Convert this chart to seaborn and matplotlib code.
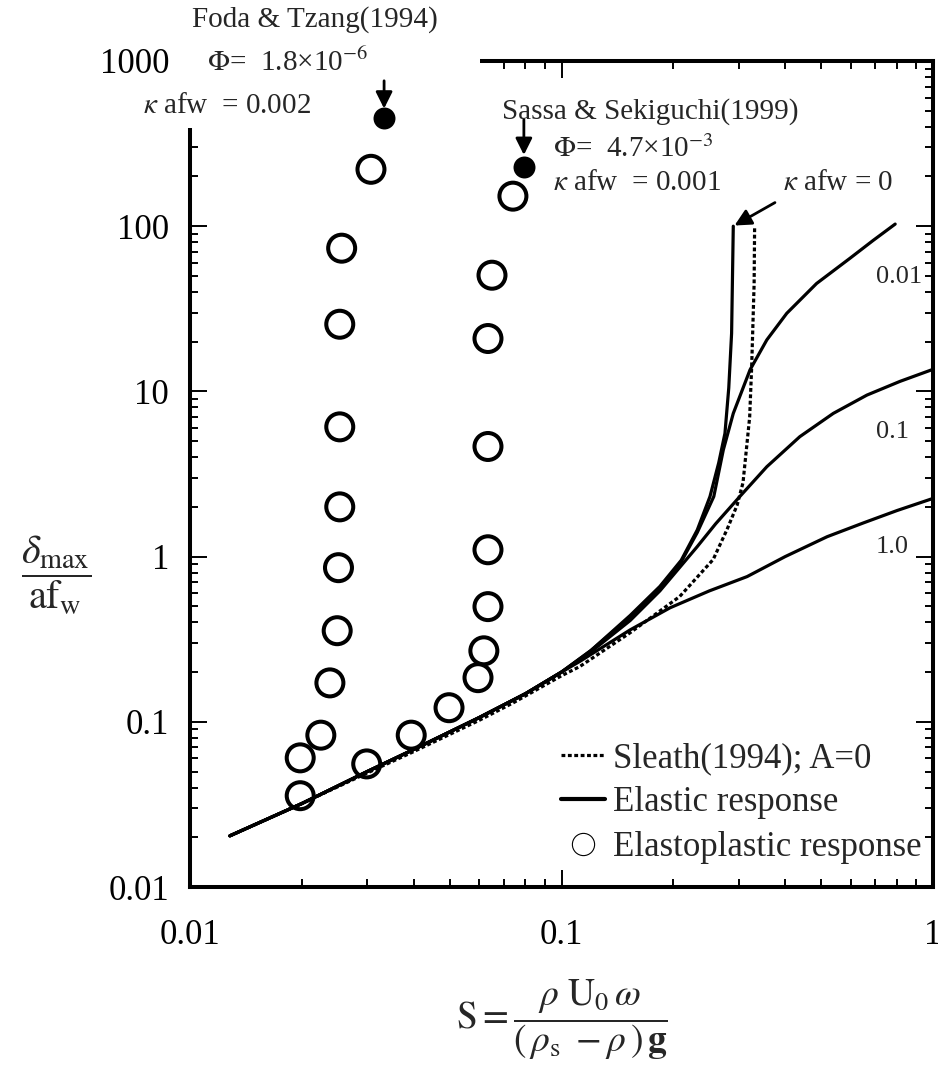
import matplotlib
matplotlib.use("Agg")
import matplotlib.pyplot as plt
from matplotlib.lines import Line2D
from matplotlib.patches import Rectangle
import seaborn as sns

# elastic response curves, S against delta_max / (a f_w), one per kappa*a*f_w
k0_S = [0.0128, 0.02, 0.03, 0.04, 0.06, 0.08, 0.1, 0.12, 0.153, 0.184, 0.21, 0.232, 0.251, 0.265, 0.2754, 0.282, 0.287, 0.29]
k0_d = [0.0204, 0.032, 0.050, 0.068, 0.106, 0.148, 0.2, 0.27, 0.44, 0.66, 0.95, 1.45, 2.31, 3.7, 5.57, 10.5, 22.5, 100]

k001_S = [0.0128, 0.02, 0.03, 0.04, 0.06, 0.08, 0.1, 0.12, 0.153, 0.184, 0.21, 0.232, 0.257, 0.2726, 0.29, 0.3217,
          0.357, 0.404, 0.486, 0.598, 0.69, 0.791]
k001_d = [0.0204, 0.032, 0.050, 0.068, 0.106, 0.148, 0.2, 0.27, 0.43, 0.65, 0.93, 1.4, 2.31, 4.42, 7.36, 13.5,
          20.5, 29.7, 45, 64, 82, 103]

k01_S = [0.0128, 0.02, 0.03, 0.04, 0.06, 0.08, 0.1, 0.12, 0.153, 0.184, 0.232, 0.26, 0.302, 0.357, 0.438, 0.539,
         0.664, 0.815, 1.0]
k01_d = [0.0204, 0.032, 0.050, 0.068, 0.106, 0.148, 0.2, 0.265, 0.41, 0.62, 1.15, 1.58, 2.31, 3.5, 5.32, 7.36,
         9.5, 11.5, 13.6]

k1_S = [0.0128, 0.02, 0.03, 0.04, 0.06, 0.08, 0.1, 0.112, 0.153, 0.196, 0.25, 0.316, 0.4, 0.519, 0.65, 0.8, 1.0]
k1_d = [0.0204, 0.032, 0.050, 0.068, 0.106, 0.148, 0.2, 0.232, 0.36, 0.49, 0.62, 0.757, 1.0, 1.32, 1.6, 1.9, 2.25]

# Sleath (1994), A = 0
sleath_S = [0.0128, 0.02, 0.03, 0.04, 0.06, 0.074, 0.1, 0.112, 0.153, 0.208, 0.256, 0.279, 0.297, 0.308, 0.315,
            0.321, 0.325, 0.33, 0.331]
sleath_d = [0.0204, 0.032, 0.049, 0.066, 0.102, 0.13, 0.19, 0.216, 0.346, 0.573, 0.96, 1.46, 2.05, 2.8, 4.6,
            7.0, 14.1, 45, 100]

# elastoplastic response (open circles)
ep_S = [0.0307, 0.0256, 0.0253, 0.0253, 0.0253, 0.0251, 0.0249, 0.0238, 0.0225, 0.0198, 0.0198,
        0.0299, 0.0394, 0.0498, 0.0596, 0.0618, 0.0634, 0.0634, 0.0634, 0.0634, 0.065, 0.074]
ep_d = [221, 73.6, 25.5, 6.1, 2.0, 0.857, 0.356, 0.172, 0.083, 0.0605, 0.0357,
        0.0556, 0.083, 0.1217, 0.185, 0.269, 0.498, 1.10, 4.64, 20.9, 50.5, 152]

# experiments: Foda & Tzang (1994), Sassa & Sekiguchi (1999)
exp_S = [0.0333, 0.0792]
exp_d = [450, 229]

xticks = [0.01, 0.1, 1]
xtick_labels = ["0.01", "0.1", "1"]
yticks = [0.01, 0.1, 1, 10, 100, 1000]
ytick_labels = ["0.01", "0.1", "1", "10", "100", "1000"]

sns.set_style("ticks")
plt.rcParams["font.family"] = ["Liberation Serif", "DejaVu Serif"]
plt.rcParams["mathtext.fontset"] = "stix"

W, H = 938, 1074
fig = plt.figure(figsize=(W / 100, H / 100), dpi=100)
ax = fig.add_axes([190 / W, (H - 887) / H, 743 / W, 826 / H])
ax.set_xscale("log")
ax.set_yscale("log")

for S, d in [(k0_S, k0_d), (k001_S, k001_d), (k01_S, k01_d), (k1_S, k1_d)]:
    sns.lineplot(x=S, y=d, ax=ax, color="black", lw=2.3, sort=False, estimator=None)
sns.lineplot(x=sleath_S, y=sleath_d, ax=ax, color="black", lw=2.3, linestyle=(0, (1.2, 0.8)),
             sort=False, estimator=None)

sns.scatterplot(x=ep_S, y=ep_d, ax=ax, marker="o", s=377, facecolor="none",
                edgecolor="black", linewidth=2.9, zorder=4)
sns.scatterplot(x=exp_S, y=exp_d, ax=ax, marker="o", s=250, color="black",
                edgecolor="black", linewidth=0, zorder=4)

ax.set_xlim(0.01, 1)
ax.set_ylim(0.01, 1000)
ax.set_xticks(xticks)
ax.set_xticklabels(xtick_labels)
ax.set_yticks(yticks)
ax.set_yticklabels(ytick_labels)
ax.tick_params(which="both", direction="in", top=True, right=True, width=1.4, colors="black")
ax.tick_params(which="major", length=12, labelsize=25)
ax.tick_params(which="minor", length=6)
ax.tick_params(axis="x", pad=23)
ax.tick_params(axis="y", pad=15)
for sp in ax.spines.values():
    sp.set_linewidth(2.9)
    sp.set_color("black")

# the annotation block covers the top-left corner of the frame
ax.add_patch(Rectangle((-0.02, (887 - 128) / 826), (480 - 190) / 743 + 0.02, 0.12,
                       transform=ax.transAxes, facecolor="white", edgecolor="none",
                       zorder=2.6, clip_on=False))

ax.set_xlabel(r"$\mathrm{S} = \dfrac{\rho\ \mathrm{U}_0\,\omega}{(\,\rho_{\mathrm{s}}\ -\rho\,)\,\mathbf{g}}$",
              fontsize=27, va="center")
ax.xaxis.set_label_coords((562 - 190) / 743, (887 - 1020) / 826)
ax.set_ylabel(r"$\dfrac{\delta_{\mathrm{max}}}{\mathrm{af}_{\mathrm{w}}}$", fontsize=29,
              rotation=0, va="center", ha="center")
ax.yaxis.set_label_coords((56 - 190) / 743, (887 - 575) / 826)

handles = [
    Line2D([], [], color="black", lw=2.3, linestyle=(0, (1.2, 0.8))),
    Line2D([], [], color="black", lw=3),
    Line2D([], [], color="black", marker="o", mfc="none", mew=0.8, ms=16, linestyle="none"),
]
ax.legend(handles, ["Sleath(1994); A=0", "Elastic response", "Elastoplastic response"],
          loc="lower right", bbox_to_anchor=((922 - 190) / 743, 0.028), frameon=False, fontsize=25,
          handlelength=1.25, handletextpad=0.25, labelspacing=0.33, borderpad=0, borderaxespad=0)


def fpos(px, py):
    return px / W, 1 - py / H


fs = 21
fig.text(*fpos(315, 20), "Foda & Tzang(1994)", ha="center", va="center", fontsize=fs)
fig.text(*fpos(207, 71), r"$\Phi$=  1.8×10$^{-6}$", ha="left", va="baseline", fontsize=fs)
fig.text(*fpos(143, 106), r"$\kappa$ afw  = 0.002", ha="left", va="center", fontsize=fs)
fig.text(*fpos(650, 112), "Sassa & Sekiguchi(1999)", ha="center", va="center", fontsize=fs)
fig.text(*fpos(553, 157), r"$\Phi$=  4.7×10$^{-3}$", ha="left", va="baseline", fontsize=fs)
fig.text(*fpos(553, 183), r"$\kappa$ afw  = 0.001", ha="left", va="center", fontsize=fs)
fig.text(*fpos(783, 183), r"$\kappa$ afw = 0", ha="left", va="center", fontsize=fs)
fig.text(*fpos(876, 277), "0.01", ha="left", va="center", fontsize=19)
fig.text(*fpos(876, 432), "0.1", ha="left", va="center", fontsize=19)
fig.text(*fpos(876, 547), "1.0", ha="left", va="center", fontsize=19)

arrow = dict(arrowstyle="-|>,head_length=0.5,head_width=0.25", color="black", lw=2,
             shrinkA=0, mutation_scale=20)
ax.annotate("", xy=(exp_S[0], exp_d[0]), xytext=(0, 27), textcoords="offset points",
            arrowprops=dict(arrow, shrinkB=7))
ax.annotate("", xy=(exp_S[1], exp_d[1]), xytext=(0, 34), textcoords="offset points",
            arrowprops=dict(arrow, shrinkB=8.5))
ax.annotate("", xy=(k0_S[-1], k0_d[-1]), xytext=(30, 17), textcoords="offset points",
            arrowprops=dict(arrow, shrinkB=1))

fig.savefig("out.png", dpi=100)
